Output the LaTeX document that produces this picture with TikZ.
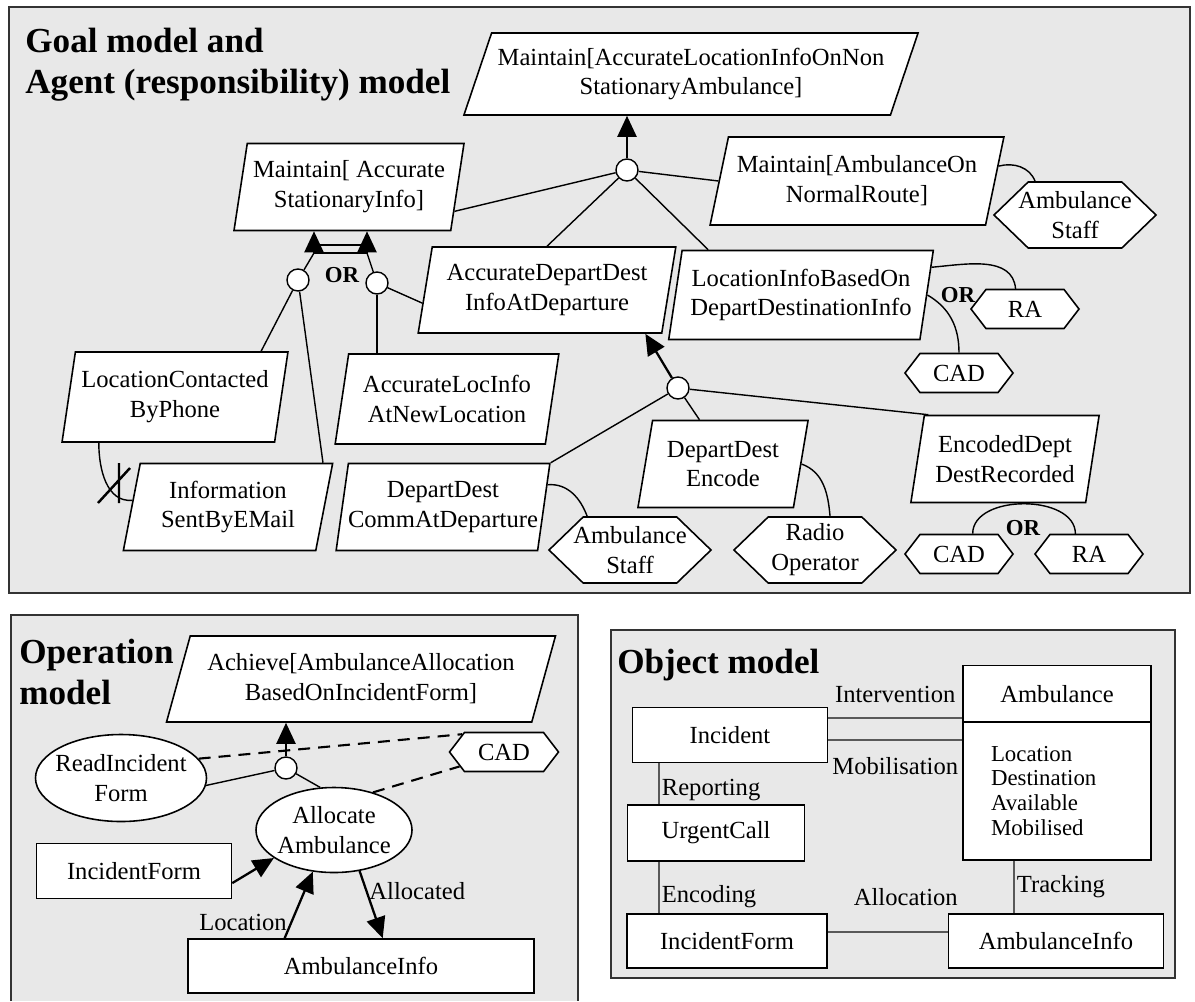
\documentclass[tikz,border=0pt]{standalone}
\usepackage{fontspec}
\setmainfont{Liberation Serif}
\usetikzlibrary{shapes.geometric,shapes.symbols,arrows.meta}

\begin{document}
\begin{tikzpicture}[x=0.2mm,y=-0.2mm,
    font=\fontsize{14}{17}\selectfont,
    panel/.style={draw=black!80,line width=1.1pt,fill=gray!18},
    goal/.style={trapezium,trapezium left angle=78,trapezium right angle=102,
        trapezium stretches=true,draw,line width=0.9pt,fill=white,align=center,
        inner xsep=-1mm,inner ysep=1pt},
    agent/.style={signal,signal to=east and west,signal pointer angle=88,draw,
        line width=0.9pt,fill=white,align=center,inner xsep=-2.5mm,inner ysep=1pt,
        minimum width=32.4mm,minimum height=13.2mm},
    agentsm/.style={agent,signal pointer angle=105,minimum width=21.6mm,minimum height=7.8mm},
    orc/.style={circle,draw,line width=0.8pt,fill=white,minimum size=4.4mm,inner sep=0pt},
    oper/.style={ellipse,draw,line width=0.9pt,fill=white,align=center,inner xsep=-2mm,inner ysep=0pt},
    entity/.style={rectangle,draw,line width=0.9pt,fill=white,align=center},
    link/.style={line width=0.8pt},
    refine/.style={line width=1.3pt,-{Triangle[length=4.2mm,width=3.8mm]}},
    dashlink/.style={line width=1.2pt,dash pattern=on 2.4mm off 1.6mm},
    assoc/.style={line width=1.3pt,draw=black!65},
    title/.style={font=\fontsize{20}{23.5}\selectfont\bfseries,align=left,anchor=west,inner sep=0pt},
    orlabel/.style={font=\fontsize{13}{15}\selectfont\bfseries}]
    \useasboundingbox (0,0) rectangle (1195,1001);

    % Panels
    \filldraw[panel] (9,7) rectangle (1190,593);
    \fill[gray!18] (11,615) rectangle (578,1001);
    \draw[draw=black!80,line width=1.1pt] (11,1001) -- (11,615) -- (578,615) -- (578,1001);
    \filldraw[panel] (611,630) rectangle (1175,978);

    \node[title] (tGoal) at (25,65) {Goal model and\\Agent (responsibility) model};
    \node[title] (tOper) at (19,672) {Operation\\model};
    \node[title] (tObj) at (617,665) {Object model};

    % Goal model
    \node[goal,trapezium left angle=65,trapezium right angle=115,minimum width=91mm,minimum height=16.4mm] (gRoot) at (691,74) {Maintain[AccurateLocationInfoOnNon\\StationaryAmbulance]};
    \node[goal,minimum width=46mm,minimum height=17.4mm] (gStat) at (349,187) {Maintain[ Accurate\\StationaryInfo]};
    \node[goal,trapezium left angle=73,trapezium right angle=107,minimum width=58.8mm,minimum height=17.6mm] (gRoute) at (857,181) {Maintain[AmbulanceOn\\NormalRoute]};
    \node[goal,minimum width=51.6mm,minimum height=17.2mm] (gDepart) at (547,290) {AccurateDepartDest\\InfoAtDeparture};
    \node[goal,minimum width=53mm,minimum height=17.8mm] (gLocBased) at (801,295) {LocationInfoBasedOn\\DepartDestinationInfo};
    \node[goal,minimum width=45.2mm,minimum height=18mm] (gPhone) at (175,397) {LocationContacted\\ByPhone};
    \node[goal,minimum width=44.8mm,minimum height=18mm] (gNewLoc) at (447,399) {AccurateLocInfo\\AtNewLocation};
    \node[goal,minimum width=42.2mm,minimum height=17.4mm] (gEmail) at (228,507) {Information\\SentByEMail};
    \node[goal,minimum width=42.8mm,minimum height=17.4mm] (gComm) at (443,507) {DepartDest\\CommAtDeparture};
    \node[goal,minimum width=34.2mm,minimum height=17.4mm] (gEncode) at (723,464) {DepartDest\\Encode};
    \node[goal,minimum width=37.8mm,minimum height=17.4mm] (gRecorded) at (1005,459) {EncodedDept\\DestRecorded};

    % Agents
    \node[agent] (aStaffA) at (1075,215) {Ambulance\\Staff};
    \node[agentsm] (aRAa) at (1025,309) {RA};
    \node[agentsm] (aCADa) at (959,373) {CAD};
    \node[agent] (aStaffB) at (630,550) {Ambulance\\Staff};
    \node[agent] (aRadio) at (815,550) {Radio\\Operator};
    \node[agentsm] (aCADb) at (959,554) {CAD};
    \node[agentsm] (aRAb) at (1089,554) {RA};

    % Refinement circles
    \node[orc] (rRoot) at (627,170) {};
    \node[orc] (rPhone) at (298,280) {};
    \node[orc] (rNewLoc) at (377,283) {};
    \node[orc] (rDepart) at (678,388) {};

    % Refinement of the root goal
    \draw[refine] (rRoot) -- (rRoot |- gRoot.south);
    \foreach \t in {gStat.-13,gDepart.north,gLocBased.154,gRoute.west}
        \draw[link] (rRoot) -- (\t);

    % OR refinement of the stationary goal
    \coordinate (orL) at (314,253);
    \coordinate (orR) at (367,253);
    \draw[link] (rPhone) -- (orL);
    \draw[link] (rNewLoc) -- (orR);
    \draw[refine] (orL) -- (orL |- gStat.south);
    \draw[refine] (orR) -- (orR |- gStat.south);
    \draw[link] (orL) -- (orR) (orL) ++(0,-8) -- ++(53,0);
    \node[orlabel] (orStat) at (342,275) {OR};
    \draw[link] (rPhone) -- (gPhone.28);
    \draw[link] (rPhone) -- (gEmail.25);
    \draw[link] (rNewLoc) -- (rNewLoc |- gNewLoc.north);
    \draw[link] (rNewLoc) -- (gDepart.186);

    % Conflict
    \draw[link] (gPhone.211) to[out=-90,in=185] (gEmail.176);
    \draw[line width=1.4pt] (119,463) -- (119,503) (98,503) -- (130,468);

    % Responsibility links
    \draw[link] (gRoute.6) to[out=15,in=110] (aStaffA.140);
    \draw[link] (gLocBased.12) to[out=5,in=95] (aRAa.115);
    \draw[link] (gLocBased.east) to[out=-30,in=90] (aCADa.north);
    \node[orlabel] (orLoc) at (958,295) {OR};

    % Refinement of the departure goal
    \draw[refine] (rDepart) -- (gDepart.-24);
    \draw[link] (rDepart) -- (gComm.top right corner);
    \draw[link] (rDepart) -- (gEncode.118);
    \draw[link] (rDepart) -- (gRecorded.150);
    \draw[link] (gComm.12) to[out=5,in=110] (aStaffB.142);
    \draw[link] (gEncode.east) to[out=-20,in=95] (aRadio.66);
    \draw[link] (aCADb.56) to[out=90,in=90] (aRAb.124);
    \node[orlabel] (orRec) at (1023,528) {OR};

    % Operation model
    \node[goal,trapezium left angle=69,trapezium right angle=111,minimum width=77.8mm,minimum height=17.2mm] (gAlloc) at (361,679) {Achieve[AmbulanceAllocation\\BasedOnIncidentForm]};
    \node[agentsm,minimum width=21.8mm] (aCADc) at (504,752) {CAD};
    \node[oper,minimum width=34.2mm,minimum height=17.4mm] (oRead) at (121,778) {ReadIncident\\Form};
    \node[oper,minimum width=31.2mm,minimum height=17mm] (oAllocate) at (334,830) {Allocate\\Ambulance};
    \node[orc] (rAlloc) at (286,768) {};
    \node[entity,minimum width=39mm,minimum height=11mm] (eForm) at (134,871) {IncidentForm};
    \node[entity,minimum width=69.2mm,minimum height=10.8mm] (eAmbInfo) at (361,966) {AmbulanceInfo};

    \draw[refine] (rAlloc) -- (rAlloc |- gAlloc.south);
    \draw[link] (rAlloc) -- (oRead.-5);
    \draw[link] (rAlloc) -- (oAllocate.108);
    \draw[dashlink] (oRead.14) -- (aCADc.157);
    \draw[dashlink] (oAllocate.44) -- (aCADc.198);
    \draw[refine] (eForm.-7) -- (oAllocate.205);
    \draw[refine] (eAmbInfo.160) -- (oAllocate.243) node[pos=0.24,left,inner sep=2pt] {Location};
    \draw[refine] (oAllocate.-58) -- (eAmbInfo.52) node[pos=0.3,right,inner sep=1pt] {Allocated};

    % Object model
    \node[entity,minimum width=39mm,minimum height=11mm] (oIncident) at (730,735) {Incident};
    \node[entity,minimum width=37.6mm,minimum height=11.4mm] (oAmb) at (1057,694) {Ambulance};
    \node[entity,align=left,text width=26.4mm,inner xsep=5.6mm,minimum height=27.6mm,font=\fontsize{13}{14.2}\selectfont] (oAttr) at (1057,791) {Location\\Destination\\Available\\Mobilised};
    \node[entity,minimum width=35.4mm,minimum height=11.2mm] (oCall) at (716,833) {UrgentCall};
    \node[entity,minimum width=40mm,minimum height=10.8mm] (oForm) at (727,941) {IncidentForm};
    \node[entity,minimum width=43mm,minimum height=10.8mm] (oAmbInfo) at (1056,941) {AmbulanceInfo};

    \draw[assoc] (oIncident.10) -- (oIncident.10 -| oAmb.west) node[midway,above=1.5mm] {Intervention};
    \draw[assoc] (oIncident.-3) -- (oIncident.-3 -| oAttr.west) node[midway,below=2mm] {Mobilisation};
    \draw[assoc] ([xshift=-14.2mm]oIncident.south) -- ([xshift=-14.2mm]oIncident.south |- oCall.north) node[pos=0.65,right,inner sep=1pt] {Reporting};
    \draw[assoc] ([xshift=-11.4mm]oCall.south) -- ([xshift=-11.4mm]oCall.south |- oForm.north) node[pos=0.68,right,inner sep=1pt] {Encoding};
    \draw[assoc] (oForm.5) -- (oForm.5 -| oAmbInfo.west) node[midway,above=3.8mm,xshift=3.6mm] {Allocation};
    \draw[assoc] ([xshift=-8.6mm]oAttr.south) -- ([xshift=-8.6mm]oAttr.south |- oAmbInfo.north) node[midway,right,inner sep=1pt] {Tracking};
\end{tikzpicture}
\end{document}
